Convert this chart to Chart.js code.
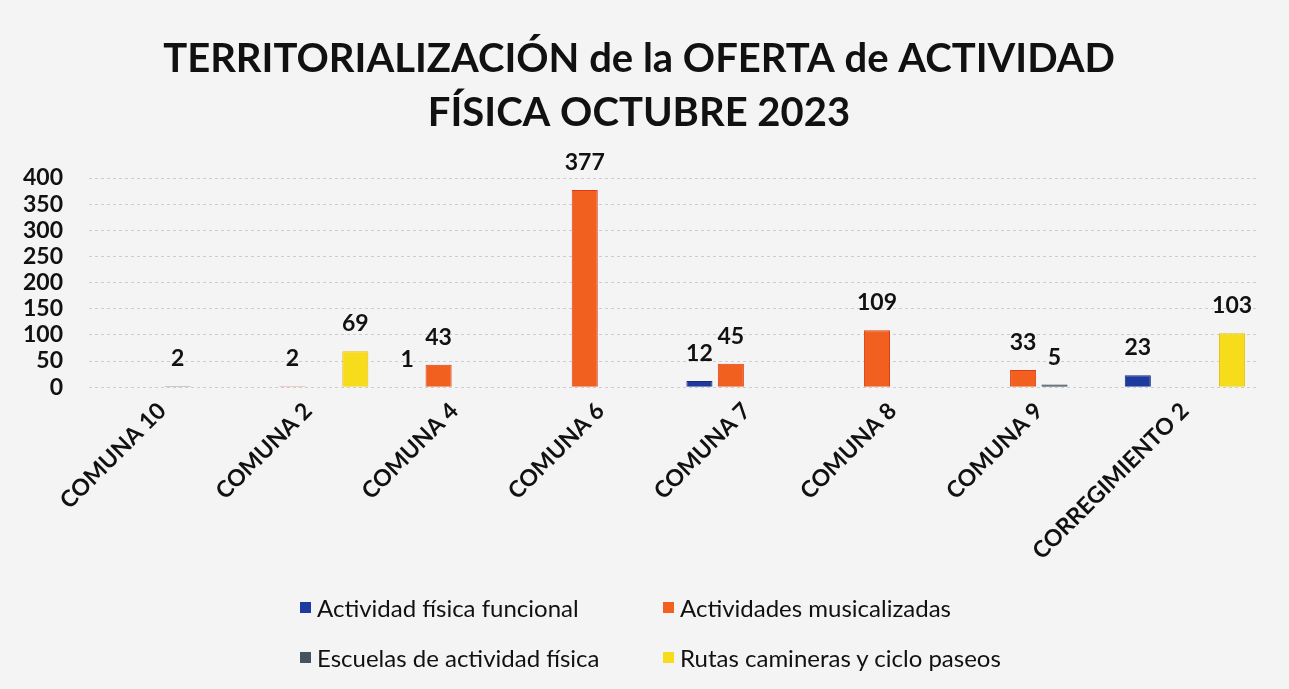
<!DOCTYPE html>
<html>
<head>
<meta charset="utf-8">
<script src="https://cdn.jsdelivr.net/npm/chart.js@4.4.0/dist/chart.umd.min.js"></script>
<style>
  body { margin: 0; background: #f4f4f4; }
  #wrap { position: relative; width: 1289px; height: 689px; }
  #legend {
    position: absolute; left: 300px; top: 593px;
    display: grid; grid-template-columns: 363px 380px; row-gap: 22px;
    font-family: Lato, "Open Sans", sans-serif; font-size: 24px; color: #111;
  }
  .item { display: flex; align-items: center; height: 28px; }
  .box { width: 11px; height: 11px; margin-right: 6px; }
</style>
</head>
<body>
<div id="wrap">
  <canvas id="myChart"></canvas>
  <div id="legend"></div>
</div>
<script>
let categories = ['COMUNA 10', 'COMUNA 2', 'COMUNA 4', 'COMUNA 6', 'COMUNA 7', 'COMUNA 8', 'COMUNA 9', 'CORREGIMIENTO 2']
let funcional = [0, 0, 1, 0, 12, 0, 0, 23]
let musicalizadas = [0, 2, 43, 377, 45, 109, 33, 0]
let escuelas = [2, 0, 0, 0, 0, 0, 5, 0]
let rutas = [0, 69, 0, 0, 0, 0, 0, 103]
let seriesNames = ['Actividad física funcional', 'Actividades musicalizadas', 'Escuelas de actividad física', 'Rutas camineras y ciclo paseos']
let yTicks = [0, 50, 100, 150, 200, 250, 300, 350, 400]

let colors = ['#1f3a9e', '#f2601f', '#46525e', '#f7dc1b']
let borders = ['#182c7a', '#dc3d18', '#36404a', '#e6bf12']

let labelPlugin = {
    id: 'barLabels',
    afterDatasetsDraw(chart) {
        let ctx = chart.ctx
        ctx.save()
        ctx.font = 'bold 23px Lato, "Open Sans", sans-serif'
        ctx.fillStyle = '#111'
        ctx.textAlign = 'center'
        ctx.textBaseline = 'alphabetic'
        chart.data.datasets.forEach(function(ds, i) {
            let meta = chart.getDatasetMeta(i)
            meta.data.forEach(function(bar, j) {
                let v = ds.data[j]
                if(!v) return
                ctx.fillText(v, bar.x, bar.y - 20)
            })
        })
        ctx.restore()
    }
}

function buildLegend(chart) {
    let legend = document.getElementById('legend')
    for(var ds of chart.data.datasets) {
        let item = document.createElement('div')
        item.className = 'item'
        let box = document.createElement('span')
        box.className = 'box'
        box.style.background = ds.backgroundColor
        item.appendChild(box)
        item.appendChild(document.createTextNode(ds.label))
        legend.appendChild(item)
    }
}

function drawChart() {
    let values = [funcional, musicalizadas, escuelas, rutas]
    let datasets = []
    for(var i = 0; i < values.length; i++) {
        datasets.push({
            label: seriesNames[i],
            data: values[i],
            backgroundColor: colors[i],
            borderColor: borders[i],
            borderWidth: 1,
            categoryPercentage: 0.86,
            barPercentage: 0.83
        })
    }

    let ctx = document.getElementById('myChart')
    let chart = new Chart(ctx, {
        type: 'bar',
        data: { labels: categories, datasets: datasets },
        plugins: [labelPlugin],
        options: {
            responsive: true,
            maintainAspectRatio: false,
            animation: false,
            layout: { padding: { left: 20, right: 31, bottom: 122, top: 0 } },
            plugins: {
                legend: { display: false },
                tooltip: { enabled: false },
                title: {
                    display: true,
                    text: ['TERRITORIALIZACIÓN de la OFERTA de ACTIVIDAD', 'FÍSICA OCTUBRE 2023'],
                    color: '#111',
                    font: { family: 'Lato, "Open Sans", sans-serif', size: 40, weight: 'bold', lineHeight: 1.35 },
                    padding: { top: 32, bottom: 38 }
                }
            },
            scales: {
                x: {
                    grid: { display: false },
                    border: { display: false },
                    afterFit: function(scale) {
                        scale.paddingLeft = 0
                    },
                    ticks: {
                        color: '#111',
                        font: { family: 'Lato, "Open Sans", sans-serif', size: 23, weight: 'bold' },
                        minRotation: 45,
                        maxRotation: 45,
                        autoSkip: false,
                        padding: 2
                    }
                },
                y: {
                    min: 0,
                    max: 400,
                    afterBuildTicks: function(scale) {
                        scale.ticks = yTicks.map(function(v) { return { value: v } })
                    },
                    afterFit: function(scale) {
                        scale.width = 69
                    },
                    border: { display: false, dash: [3, 3] },
                    grid: { color: '#cdcdcd', drawTicks: false, lineWidth: 1 },
                    ticks: {
                        color: '#111',
                        autoSkip: false,
                        font: { family: 'Lato, "Open Sans", sans-serif', size: 23, weight: 'bold', lineHeight: 1 },
                        padding: 26
                    }
                }
            }
        }
    })
    buildLegend(chart)
}

drawChart()
</script>
</body>
</html>
